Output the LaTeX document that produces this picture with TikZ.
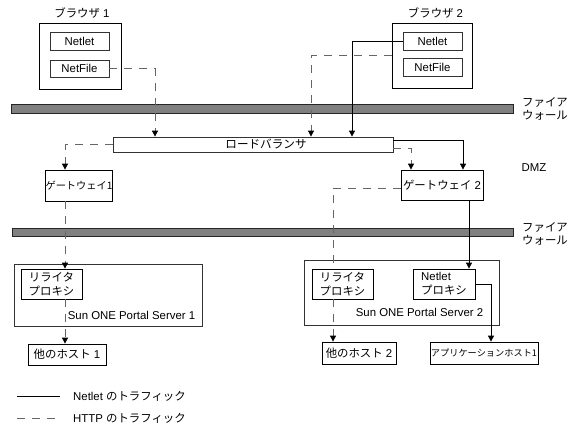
\documentclass[tikz,border=0pt]{standalone}
\usepackage{fontspec}
\setmainfont{Liberation Sans}
\newfontfamily\jp{Noto Sans CJK JP}
\usetikzlibrary{arrows.meta}
\begin{document}
\begin{tikzpicture}[x=1pt,y=-1pt,
  font=\fontsize{11.4}{14}\selectfont,
  box/.style={draw=black!80, line width=0.8pt, inner sep=0pt, align=center},
  bar/.style={draw=black!85, fill=black!50, line width=0.8pt, inner sep=0pt},
  http/.style={draw=black!60, line width=0.8pt, dash pattern=on 8pt off 7pt},
  nl/.style={draw=black, line width=0.8pt},
  arr/.style={-{Triangle[length=6pt,width=6pt,color=black]}},
  lbl/.style={inner sep=0pt, align=left}]
\useasboundingbox (0,0) rectangle (577,440);

% firewalls
\node[bar, minimum width=502pt, minimum height=9pt] (fw1) at (262,108.5) {};
\node[bar, minimum width=501pt, minimum height=8pt] (fw2) at (262.5,232.5) {};
\node[lbl, anchor=west, font=\jp\fontsize{11.4}{12.5}\selectfont] (fw1l) at (522,109) {ファイア\\ウォール};
\node[lbl, anchor=west, font=\jp\fontsize{11.4}{13.5}\selectfont] (fw2l) at (522,234) {ファイア\\ウォール};
\node[lbl] (dmz) at (534,168) {DMZ};

% browsers
\node[inner sep=0pt] (b1l) at (82,13) {{\jp ブラウザ} 1};
\node[box, draw=black, minimum width=82pt, minimum height=66pt] (b1) at (80,56) {};
\node[box, minimum width=59pt, minimum height=18pt] (nl1) at (79.5,41) {Netlet};
\node[box, minimum width=59pt, minimum height=17pt] (nf1) at (79.5,68.5) {NetFile};

\node[inner sep=0pt] (b2l) at (435.5,13) {{\jp ブラウザ} 2};
\node[box, draw=black, minimum width=80pt, minimum height=65pt] (b2) at (432,55.5) {};
\node[box, minimum width=59pt, minimum height=18pt] (nl2) at (432.5,41) {Netlet};
\node[box, minimum width=59pt, minimum height=18pt] (nf2) at (432.5,67.5) {NetFile};

% load balancer
\node[box, minimum width=280pt, minimum height=15pt] (lb) at (253,144.5) {};
\node[inner sep=0pt, font=\jp\fontsize{11.6}{14}\selectfont] (lbt) at (266,144.5) {ロードバランサ};

% gateways
\node[box, draw=black, minimum width=66pt, minimum height=31pt, font=\jp\fontsize{10.2}{12}\selectfont] (gw1) at (79,185.5) {ゲートウェイ1};
\node[box, draw=black, minimum width=82pt, minimum height=30pt] (gw2) at (442,185) {{\jp ゲートウェイ} 2};

% portal servers
\node[box, minimum width=188pt, minimum height=62pt] (ps1) at (108,295) {};
\node[box, draw=black, minimum width=61pt, minimum height=30pt, font=\jp\fontsize{11.4}{14}\selectfont] (rp1) at (51.5,284) {リライタ\\プロキシ};
\node[inner sep=0pt] (ps1l) at (131.5,315) {Sun ONE Portal Server 1};
\node[box, draw=black, minimum width=78pt, minimum height=21pt] (o1) at (67,354.5) {{\jp 他のホスト} 1};

\node[box, minimum width=195pt, minimum height=65pt] (ps2) at (401.5,292.5) {};
\node[box, draw=black, minimum width=61pt, minimum height=30pt, font=\jp\fontsize{11.4}{14}\selectfont] (rp2) at (342.5,284) {リライタ\\プロキシ};
\node[box, draw=black, minimum width=62pt, minimum height=30pt, align=left] (np) at (444,284) {Netlet\\{\jp プロキシ}};
\node[inner sep=0pt] (ps2l) at (419.5,312) {Sun ONE Portal Server 2};
\node[box, draw=black, minimum width=74pt, minimum height=22pt] (o2) at (359,353) {{\jp 他のホスト} 2};
\node[box, draw=black, minimum width=108pt, minimum height=22pt, font=\jp\fontsize{9.2}{12}\selectfont] (app) at (484,353) {アプリケーションホスト1};

% helper columns
\coordinate (c155) at (155,0);
\coordinate (c352) at (352,0);
\coordinate (c311) at (311,0);
\coordinate (c65) at (65,0);
\coordinate (c463) at (463,0);
\coordinate (c411) at (411,0);
\coordinate (c333) at (333,0);
\coordinate (c469) at (469,0);
\coordinate (c491) at (491,0);

% connectors
\draw[http, arr] (nf1.east) -| (c155 |- lb.north);
\draw[nl, arr] (nl2.west) -| (c352 |- lb.north);
\draw[http, arr] (b2.west) -| (c311 |- lb.north);
\draw[http, arr] (lb.west) -| (c65 |- gw1.north);
\draw[nl, arr] ([yshift=4pt]lb.east) -| (c463 |- gw2.north);
\draw[http, arr] ([yshift=-3.5pt]lb.east) -| (c411 |- gw2.north);
\draw[http, arr] (c65 |- gw1.south) -- (c65 |- rp1.north);
\draw[http, arr] (c65 |- rp1.south) -- (c65 |- o1.north);
\draw[http] ([yshift=-3pt]gw2.west) -| (c333 |- rp2.north);
\draw[http, arr] (c333 |- rp2.south) -- (c333 |- o2.north);
\draw[nl, arr] (c469 |- gw2.south) -- (c469 |- np.north);
\draw[nl, arr] (np.east) -| (c491 |- app.north);

% legend
\coordinate (la1) at (17,396);
\coordinate (la2) at (60,396);
\coordinate (lb1) at (17,418);
\coordinate (lb2) at (60,418);
\draw[nl] (la1) -- (la2);
\draw[http] (lb1) -- (lb2);
\node[lbl, anchor=west] (lt1) at (73,396) {Netlet {\jp のトラフィック}};
\node[lbl, anchor=west] (lt2) at (73,418) {HTTP {\jp のトラフィック}};
\end{tikzpicture}
\end{document}
